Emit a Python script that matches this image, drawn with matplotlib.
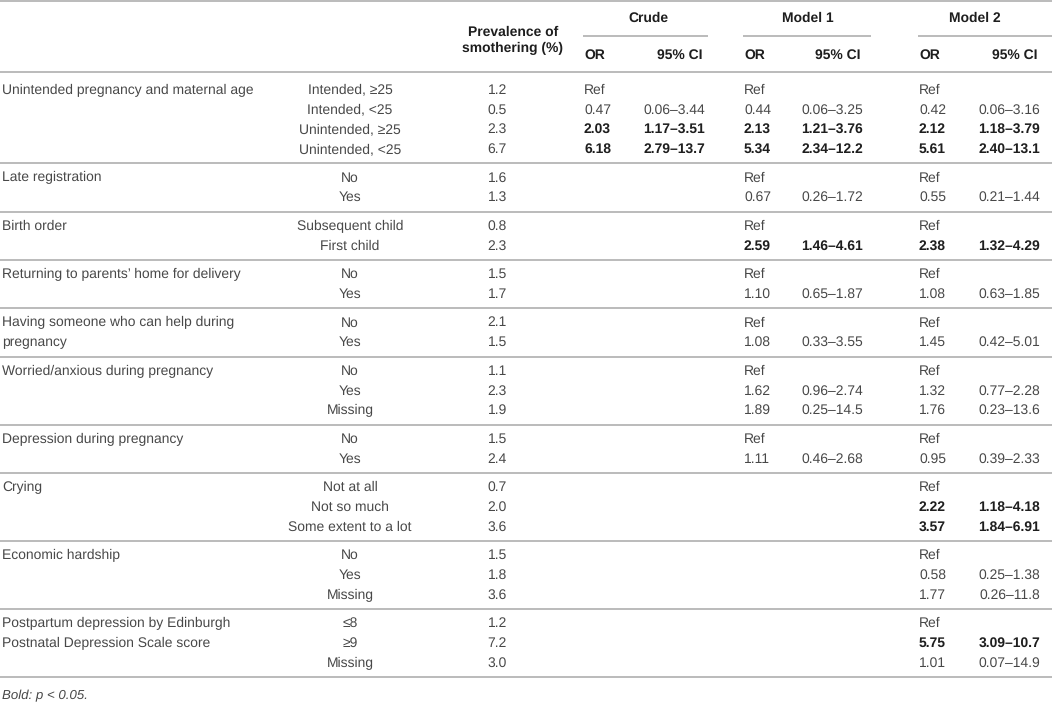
import matplotlib
matplotlib.use("Agg")
import matplotlib.pyplot as plt

# ---- table data ----
variable_labels = [
    ["Unintended pregnancy and maternal age"],
    ["Late registration"],
    ["Birth order"],
    ["Returning to parents\u2019 home for delivery"],
    ["Having someone who can help during", "pregnancy"],
    ["Worried/anxious during pregnancy"],
    ["Depression during pregnancy"],
    ["Crying"],
    ["Economic hardship"],
    ["Postpartum depression by Edinburgh", "Postnatal Depression Scale score"],
]

categories = [
    ["Intended, \u226525", "Intended, <25", "Unintended, \u226525", "Unintended, <25"],
    ["No", "Yes"],
    ["Subsequent child", "First child"],
    ["No", "Yes"],
    ["No", "Yes"],
    ["No", "Yes", "Missing"],
    ["No", "Yes"],
    ["Not at all", "Not so much", "Some extent to a lot"],
    ["No", "Yes", "Missing"],
    ["\u22648", "\u22659", "Missing"],
]

prevalence = [1.2, 0.5, 2.3, 6.7, 1.6, 1.3, 0.8, 2.3, 1.5, 1.7, 2.1, 1.5,
              1.1, 2.3, 1.9, 1.5, 2.4, 0.7, 2.0, 3.6, 1.5, 1.8, 3.6, 1.2, 7.2, 3.0]

# OR: "Ref", a number, or None (blank); CI as (low, high) or None
crude_or = ["Ref", 0.47, 2.03, 6.18] + [None] * 22
crude_ci = [None, (0.06, 3.44), (1.17, 3.51), (2.79, 13.7)] + [None] * 22

m1_or = ["Ref", 0.44, 2.13, 5.34, "Ref", 0.67, "Ref", 2.59, "Ref", 1.10,
         "Ref", 1.08, "Ref", 1.62, 1.89, "Ref", 1.11] + [None] * 9
m1_ci = [None, (0.06, 3.25), (1.21, 3.76), (2.34, 12.2), None, (0.26, 1.72),
         None, (1.46, 4.61), None, (0.65, 1.87), None, (0.33, 3.55), None,
         (0.96, 2.74), (0.25, 14.5), None, (0.46, 2.68)] + [None] * 9

m2_or = ["Ref", 0.42, 2.12, 5.61, "Ref", 0.55, "Ref", 2.38, "Ref", 1.08,
         "Ref", 1.45, "Ref", 1.32, 1.76, "Ref", 0.95, "Ref", 2.22, 3.57,
         "Ref", 0.58, 1.77, "Ref", 5.75, 1.01]
m2_ci = [None, (0.06, 3.16), (1.18, 3.79), (2.40, 13.1), None, (0.21, 1.44),
         None, (1.32, 4.29), None, (0.63, 1.85), None, (0.42, 5.01), None,
         (0.77, 2.28), (0.23, 13.6), None, (0.39, 2.33), None, (1.18, 4.18),
         (1.84, 6.91), None, (0.25, 1.38), (0.26, 11.8), None, (3.09, 10.7),
         (0.07, 14.9)]

model_names = ["Crude", "Model 1", "Model 2"]
model_or = [crude_or, m1_or, m2_or]
model_ci = [crude_ci, m1_ci, m2_ci]


def fmt(v):
    return "%.1f" % v if v >= 10 else "%.2f" % v


# ---- layout (pixel coordinates) ----
W, H = 1052, 702
plt.rcParams["font.family"] = ["Liberation Sans", "DejaVu Sans"]
plt.rcParams["text.hinting"] = "no_hinting"
fig = plt.figure(figsize=(W / 100, H / 100), dpi=100)
ax = fig.add_axes([0, 0, 1, 1])
ax.set_xlim(0, W)
ax.set_ylim(H, 0)
ax.axis("off")

fs = 10
txt = "#484848"
bold_col = "#1e1e1e"
rule = "#a8a8a8"

x_var = 2
x_cat = 350
x_prev = 507
or_x = [584, 744, 919]
ci_x = [705, 863, 1040]
span = [(583, 708), (743, 871), (918, 1052)]
title_x = [648, 808, 975]


def hline(y, x0=0, x1=W):
    ax.plot([x0, x1], [y, y], color=rule, lw=1.1, solid_capstyle="butt")


# header
hline(1)
ax.text(513, 32, "Prevalence of", ha="center", va="center", fontsize=fs,
        fontweight="bold", color=bold_col)
ax.text(513, 48, "smothering (%)", ha="center", va="center", fontsize=fs,
        fontweight="bold", color=bold_col)
for k, name in enumerate(model_names):
    x0, x1 = span[k]
    ax.text(title_x[k], 18, name, ha="center", va="center", fontsize=fs,
            fontweight="bold", color=bold_col)
    hline(35.5, x0, x1)
    ax.text(or_x[k], 55, "OR", ha="left", va="center", fontsize=fs,
            fontweight="bold", color=bold_col)
    ax.text(ci_x[k] - 2, 55, "95% CI", ha="right", va="center", fontsize=fs,
            fontweight="bold", color=bold_col)
hline(72)

# body
y = 90
step = 19.8
row = 0
for g, cats in enumerate(categories):
    for i, cat in enumerate(cats):
        if i < len(variable_labels[g]):
            ax.text(x_var, y, variable_labels[g][i], ha="left", va="center",
                    fontsize=fs, color=txt)
        ax.text(x_cat, y, cat, ha="center", va="center", fontsize=fs, color=txt)
        ax.text(x_prev, y, "%.1f" % prevalence[row], ha="right", va="center",
                fontsize=fs, color=txt)
        for k in range(3):
            o = model_or[k][row]
            ci = model_ci[k][row]
            if o is None:
                continue
            sig = ci is not None and (ci[0] > 1 or ci[1] < 1)
            w = "bold" if sig else "normal"
            c = bold_col if sig else txt
            label = o if isinstance(o, str) else "%.2f" % o
            ax.text(or_x[k], y, label, ha="left", va="center", fontsize=fs,
                    fontweight=w, color=c)
            if ci is not None:
                ax.text(ci_x[k], y, fmt(ci[0]) + "\u2013" + fmt(ci[1]),
                        ha="right", va="center", fontsize=fs, fontweight=w, color=c)
        row += 1
        if i < len(cats) - 1:
            y += step
    hline(y + 14)
    y += 28.5

ax.text(x_var, 696, "Bold: p < 0.05.", ha="left", va="center", fontsize=fs - 0.5,
        style="italic", color=txt)

fig.savefig("out.png", dpi=100)
